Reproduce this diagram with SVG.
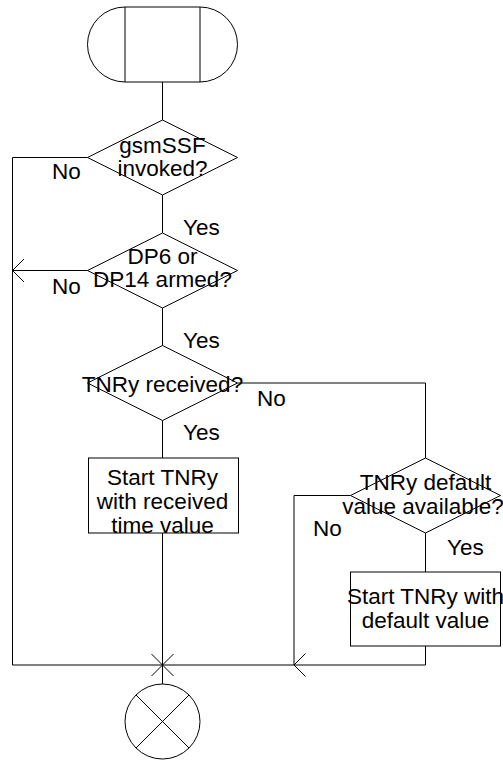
<svg xmlns="http://www.w3.org/2000/svg" width="503" height="760" viewBox="0 0 503 760">
<style>
.s{fill:#fff;stroke:#000;stroke-width:1}
.c{fill:none;stroke:#000;stroke-width:1}
text{font-family:"Liberation Sans",Arial,sans-serif;font-size:22.5px;fill:#000}
.m{text-anchor:middle}
</style>
<rect width="503" height="760" fill="#fff"/>
<g id="connectors">
<path class="c" d="M162.5,82 V120"/>
<path class="c" d="M162.5,195 V233"/>
<path class="c" d="M87.5,157.5 H12.5 V665 H425.5 V646"/>
<path class="c" d="M87.5,270.5 H12.5 M24,259 L12.5,270.5 L24,282"/>
<path class="c" d="M162.5,308 V345.5"/>
<path class="c" d="M162.5,420.5 V458"/>
<path class="c" d="M162.5,533 V684"/>
<path class="c" d="M237.5,383 H425.5 V458"/>
<path class="c" d="M350.5,495.5 H294 V665 M305.5,653.5 L294,665 L305.5,676.5"/>
<path class="c" d="M425.5,533 V572"/>
<path class="c" d="M151.5,654 L173.5,676 M173.5,654 L151.5,676"/>
</g>
<g id="start">
<path class="s" d="M125,7 H200 A37.5,37.5 0 0 1 200,82 H125 A37.5,37.5 0 0 1 125,7 Z"/>
<path class="c" d="M125,7 V82 M200,7 V82"/>
</g>
<g id="gsmssf">
<polygon class="s" points="162.5,120 237.5,157.5 162.5,195 87.5,157.5"/>
<text class="m" x="162.5" y="152.5">gsmSSF</text>
<text class="m" x="162.5" y="175.5">invoked?</text>
</g>
<g id="dp">
<polygon class="s" points="162.5,233 237.5,270.5 162.5,308 87.5,270.5"/>
<text class="m" x="162.5" y="263.5">DP6 or</text>
<text class="m" x="162.5" y="286.5">DP14 armed?</text>
</g>
<g id="tnryrec">
<polygon class="s" points="162.5,345.5 237.5,383 162.5,420.5 87.5,383"/>
<text class="m" x="162.5" y="391.5">TNRy received?</text>
</g>
<g id="startrec">
<rect class="s" x="88.5" y="458" width="150" height="75"/>
<text class="m" x="162.5" y="484.5">Start TNRy</text>
<text class="m" x="162.5" y="508.5">with received</text>
<text class="m" x="162.5" y="533">time value</text>
</g>
<g id="tnrydef">
<polygon class="s" points="425.5,458 500.5,495.5 425.5,533 350.5,495.5"/>
<text class="m" x="425.5" y="490">TNRy default</text>
<text class="m" x="423" y="513.5">value available?</text>
</g>
<g id="startdef">
<rect class="s" x="350.5" y="572" width="150" height="74"/>
<text class="m" x="425.5" y="603.5">Start TNRy with</text>
<text class="m" x="425.5" y="627.5">default value</text>
</g>
<g id="end">
<circle class="s" cx="162.5" cy="721.5" r="37.5"/>
<path class="c" d="M136,695 L189,748 M189,695 L136,748"/>
</g>
<g id="labels">
<text x="52" y="179">No</text>
<text x="52" y="293.5">No</text>
<text x="183" y="235">Yes</text>
<text x="183" y="347.5">Yes</text>
<text x="183" y="440">Yes</text>
<text x="257" y="406">No</text>
<text x="313" y="536">No</text>
<text x="447" y="555">Yes</text>
</g>
</svg>
